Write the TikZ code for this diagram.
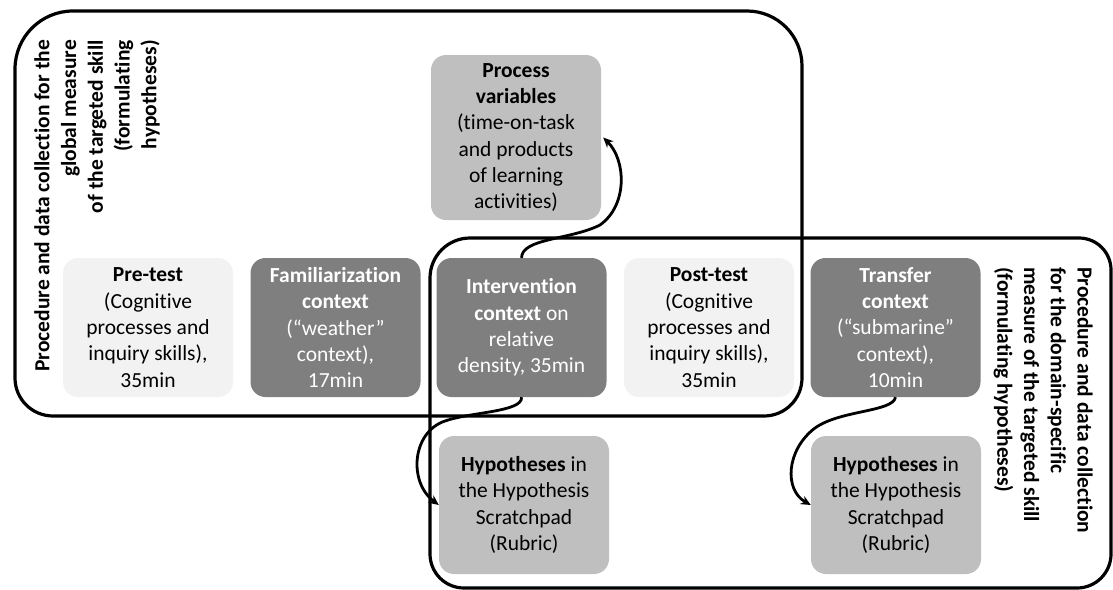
\documentclass[tikz,border=0pt]{standalone}
\usepackage{fontspec}
\setmainfont[Ligatures=NoCommon]{Carlito}
\usetikzlibrary{arrows.meta}

\begin{document}
\begin{tikzpicture}[x=1pt,y=-1pt,
    every node/.style={font=\fontsize{21.5}{26.3}\selectfont, align=center},
    stage/.style={rounded corners=15, minimum width=170, minimum height=139, inner sep=0pt},
    lightstage/.style={stage, fill=lightbox},
    darkstage/.style={stage, fill=darkbox, text=white},
    datastage/.style={stage, fill=midbox},
    frame/.style={line width=3.2pt, line join=round},
    link/.style={line width=2.8pt, -{Stealth[length=10pt,width=9pt]}}]
  \definecolor{lightbox}{HTML}{F2F2F2}
  \definecolor{darkbox}{HTML}{7F7F7F}
  \definecolor{midbox}{HTML}{BFBFBF}
  \useasboundingbox (0,0) rectangle (1113,589);
  % the two collection frames
  \draw [frame] (15,200) [rounded corners=58] |- (400,11) [rounded corners=55] -| (802,200)
        [rounded corners=38] |- (400,416) [rounded corners=38] -| (15,200) -- cycle;
  \draw [frame] (430,400) [rounded corners=40] |- (800,238) [rounded corners=32] -| (1111,400)
        [rounded corners=34] |- (800,588) [rounded corners=34] -| (430,400) -- cycle;
  \node [anchor=north east, rotate=90, align=right, inner sep=0pt, font=\fontsize{21.5}{26.8}\selectfont\bfseries] (globlabel) at (34,40)
        {Procedure and data collection for the\\global measure\\of the targeted skill\\(formulating\\hypotheses)};
  \node [anchor=north west, rotate=-90, align=left, inner sep=0pt, font=\fontsize{21.5}{26.8}\selectfont\bfseries] (domlabel) at (1093,267)
        {Procedure and data collection\\for the domain-specific\\measure of the targeted skill\\(formulating hypotheses)};
  % stages
  \node [lightstage] (pre) at (148,327.5) {\textbf{Pre-test}\\(Cognitive\\processes and\\inquiry skills),\\35min};
  \node [darkstage] (fam) at (335.5,327.5) {\textbf{Familiarization}\\\textbf{context}\\(“weather”\\context),\\17min};
  \node [darkstage] (int) at (521.5,327.5) {\textbf{Intervention}\\\textbf{context} on\\relative\\density, 35min};
  \node [lightstage] (post) at (709,327.5) {\textbf{Post-test}\\(Cognitive\\processes and\\inquiry skills),\\35min};
  \node [darkstage] (trans) at (895.5,327.5) {\textbf{Transfer}\\\textbf{context}\\(“submarine”\\context),\\10min};
  % collected data
  \node [datastage, minimum height=165] (proc) at (516,137.5) {\textbf{Process}\\\textbf{variables}\\(time-on-task\\and products\\of learning\\activities)};
  \node [datastage, minimum height=138] (hypa) at (524,505) {\textbf{Hypotheses} in\\the Hypothesis\\Scratchpad\\(Rubric)};
  \node [datastage, minimum height=138] (hypb) at (896,505) {\textbf{Hypotheses} in\\the Hypothesis\\Scratchpad\\(Rubric)};
  % links
  \draw [link] (int.north) .. controls (522,238) and (570,240) .. (600,225)
        .. controls (628,205) and (626,160) .. ([xshift=2pt]proc.east);
  \draw [link] (int.south) .. controls (523,412) and (470,412) .. (445,421)
        .. controls (412,432) and (408,482) .. (hypa.west);
  \draw [link] (trans.south) .. controls (893,412) and (840,410) .. (815,428)
        .. controls (786,450) and (784,490) .. (hypb.west);
\end{tikzpicture}
\end{document}
